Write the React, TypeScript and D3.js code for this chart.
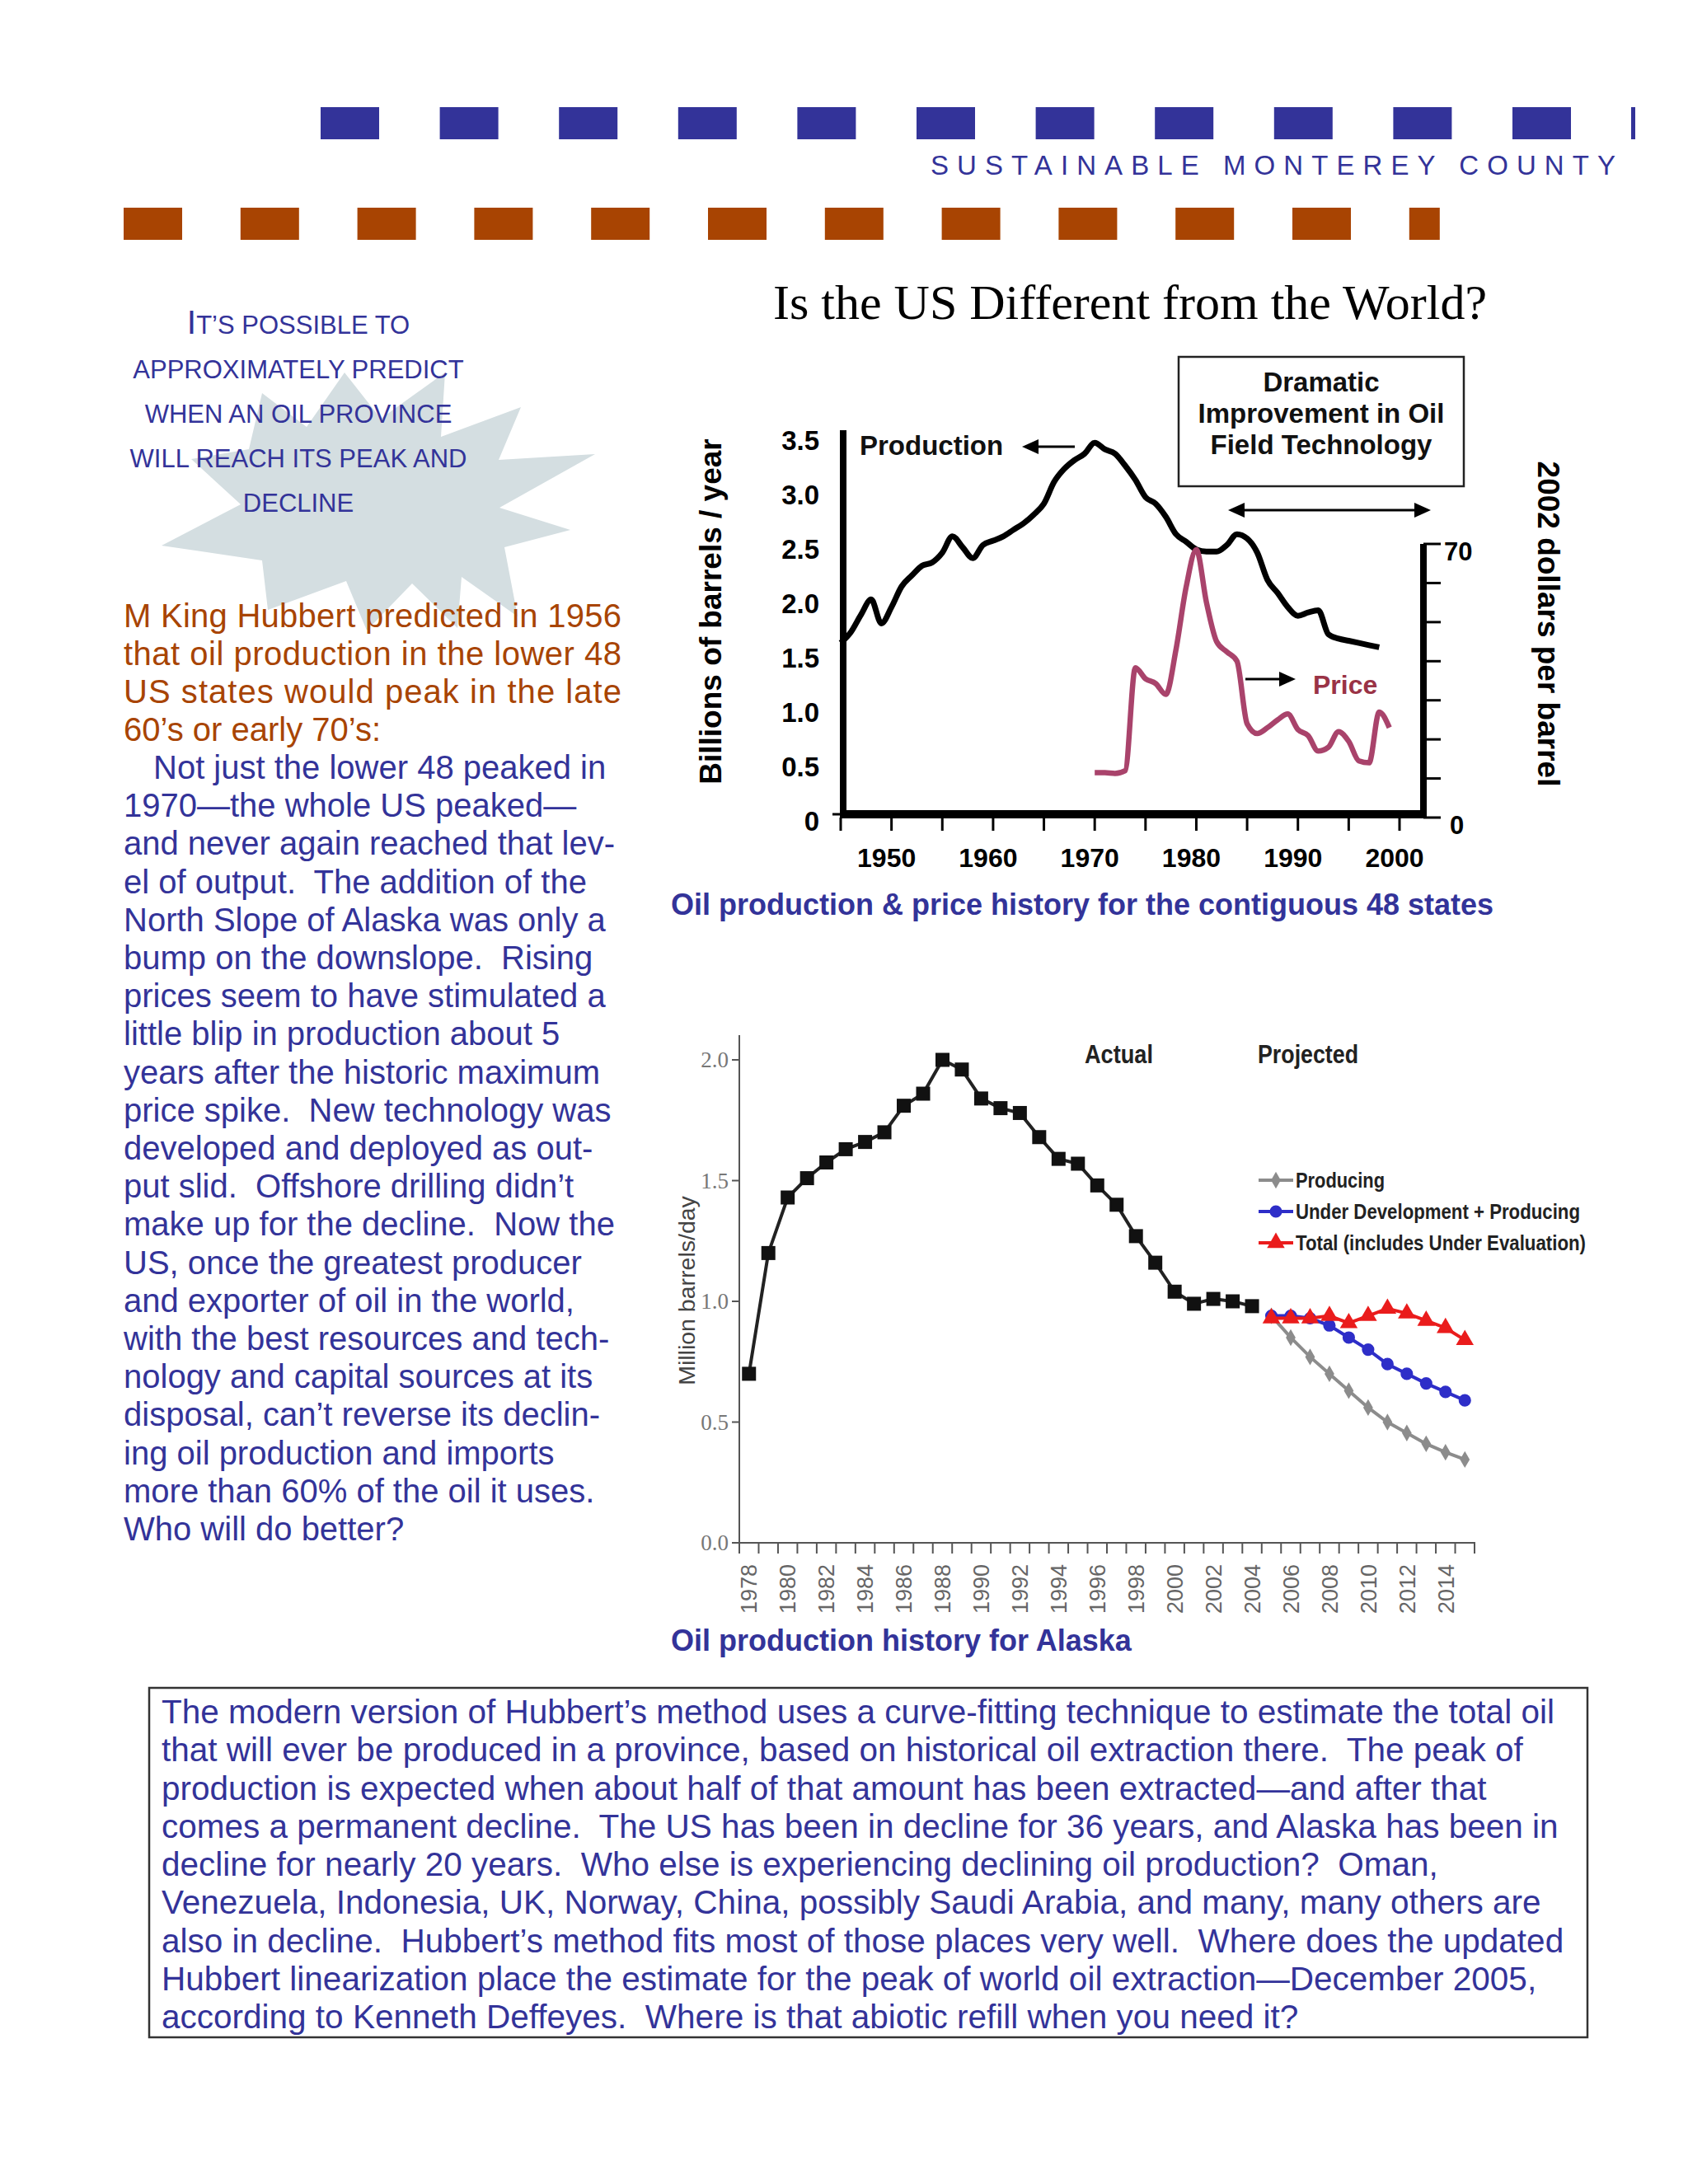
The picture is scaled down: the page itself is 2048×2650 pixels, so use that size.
import * as d3 from 'd3'

const SANS = '"Liberation Sans", Arial, Helvetica, sans-serif'
const SERIF = '"Liberation Serif", "Times New Roman", serif'
const BLUE = '#333399'
const RUST = '#a84402'

// ---- lower 48 production (billion bbl / yr) ----
const prodYears = [
  1945, 1946, 1947, 1948, 1949, 1950, 1951, 1952, 1953, 1954, 1955, 1956, 1957, 1958,
  1959, 1960, 1961, 1962, 1963, 1964, 1965, 1966, 1967, 1968, 1969, 1970, 1971, 1972,
  1973, 1974, 1975, 1976, 1977, 1978, 1979, 1980, 1981, 1982, 1983, 1984, 1985, 1986,
  1987, 1988, 1989, 1990, 1991, 1992, 1993, 1994, 1995, 1996, 1997, 1998,
]
const prodValues = [
  1.62, 1.72, 1.88, 2.02, 1.8, 1.95, 2.14, 2.24, 2.33, 2.36, 2.45, 2.6, 2.5, 2.4,
  2.52, 2.56, 2.6, 2.66, 2.72, 2.8, 2.9, 3.1, 3.22, 3.3, 3.36, 3.46, 3.4, 3.36,
  3.25, 3.12, 2.96, 2.9, 2.78, 2.62, 2.55, 2.48, 2.46, 2.46, 2.52, 2.62, 2.58, 2.45,
  2.2, 2.08, 1.95, 1.87, 1.9, 1.92, 1.7, 1.66, 1.64, 1.62, 1.6, 1.58,
]

// ---- price (2002 dollars / bbl) ----
const priceYears = [
  1970, 1971, 1972, 1973, 1974, 1975, 1976, 1977, 1978, 1979, 1980, 1981, 1982, 1983, 1984,
  1985, 1986, 1987, 1988, 1989, 1990, 1991, 1992, 1993, 1994, 1995, 1996, 1997, 1998, 1999,
]
const priceValues = [
  11.5, 11.5, 11.3, 12, 38.3, 35.5, 34.3, 31.5, 43, 59, 68.5, 55, 45, 42.4, 40,
  24, 21.5, 23, 25, 26.5, 22.5, 21, 17, 18, 22, 19.5, 14.5, 14, 27, 23,
]

const prodTicks = [0, 0.5, 1, 1.5, 2, 2.5, 3, 3.5]
const prodTickLabels = ['0', '0.5', '1.0', '1.5', '2.0', '2.5', '3.0', '3.5']
const priceTicks = [0, 10, 20, 30, 40, 50, 60, 70]
const priceTickLabels = ['0', '70']
const yearTicks = [1945, 1950, 1955, 1960, 1965, 1970, 1975, 1980, 1985, 1990, 1995, 2000]
const yearLabels = [1950, 1960, 1970, 1980, 1990, 2000]

// ---- Alaska (million bbl / day) ----
const alaskaYears = [
  1978, 1979, 1980, 1981, 1982, 1983, 1984, 1985, 1986, 1987, 1988, 1989, 1990, 1991,
  1992, 1993, 1994, 1995, 1996, 1997, 1998, 1999, 2000, 2001, 2002, 2003, 2004, 2005,
  2006, 2007, 2008, 2009, 2010, 2011, 2012, 2013, 2014, 2015,
]
const actualValues = [
  0.7, 1.2, 1.43, 1.51, 1.575, 1.63, 1.66, 1.7, 1.81, 1.86, 2.0, 1.96, 1.84, 1.8,
  1.78, 1.68, 1.59, 1.57, 1.48, 1.4, 1.27, 1.16, 1.04, 0.99, 1.01, 1.0, 0.98,
]
const projYears = [2005, 2006, 2007, 2008, 2009, 2010, 2011, 2012, 2013, 2014, 2015]
const producingValues = [0.94, 0.85, 0.77, 0.7, 0.63, 0.56, 0.5, 0.455, 0.41, 0.375, 0.345]
const underDevValues = [0.94, 0.94, 0.93, 0.9, 0.85, 0.8, 0.74, 0.7, 0.66, 0.625, 0.59]
const totalValues = [0.93, 0.93, 0.93, 0.94, 0.91, 0.94, 0.97, 0.95, 0.92, 0.89, 0.84]
const alaskaTicks = [0, 0.5, 1, 1.5, 2]
const alaskaTickLabels = ['0.0', '0.5', '1.0', '1.5', '2.0']
const alaskaLabelYears = [
  1978, 1980, 1982, 1984, 1986, 1988, 1990, 1992, 1994, 1996, 1998, 2000, 2002, 2004,
  2006, 2008, 2010, 2012, 2014,
]

const legendItems = [
  { label: 'Producing', color: '#8c8c8c', shape: 'diamond', len: 108 },
  { label: 'Under Development + Producing', color: '#2e2ec8', shape: 'circle', len: 345 },
  { label: 'Total (includes Under Evaluation)', color: '#ea1c1c', shape: 'triangle', len: 352 },
]

// ---- text ----
const headingLines = ['T’S POSSIBLE TO', 'APPROXIMATELY PREDICT', 'WHEN AN OIL PROVINCE', 'WILL REACH ITS PEAK AND', 'DECLINE']
const rustLines = [
  'M King Hubbert predicted in 1956',
  'that oil production in the lower 48',
  'US states would peak in the late',
  '60’s or early 70’s:',
]
const blueLines = [
  'Not just the lower 48 peaked in',
  '1970—the whole US peaked—',
  'and never again reached that lev-',
  'el of output.  The addition of the',
  'North Slope of Alaska was only a',
  'bump on the downslope.  Rising',
  'prices seem to have stimulated a',
  'little blip in production about 5',
  'years after the historic maximum',
  'price spike.  New technology was',
  'developed and deployed as out-',
  'put slid.  Offshore drilling didn’t',
  'make up for the decline.  Now the',
  'US, once the greatest producer',
  'and exporter of oil in the world,',
  'with the best resources and tech-',
  'nology and capital sources at its',
  'disposal, can’t reverse its declin-',
  'ing oil production and imports',
  'more than 60% of the oil it uses.',
  'Who will do better?',
]
const boxLines = [
  'The modern version of Hubbert’s method uses a curve-fitting technique to estimate the total oil',
  'that will ever be produced in a province, based on historical oil extraction there.  The peak of',
  'production is expected when about half of that amount has been extracted—and after that',
  'comes a permanent decline.  The US has been in decline for 36 years, and Alaska has been in',
  'decline for nearly 20 years.  Who else is experiencing declining oil production?  Oman,',
  'Venezuela, Indonesia, UK, Norway, China, possibly Saudi Arabia, and many, many others are',
  'also in decline.  Hubbert’s method fits most of those places very well.  Where does the updated',
  'Hubbert linearization place the estimate for the peak of world oil extraction—December 2005,',
  'according to Kenneth Deffeyes.  Where is that abiotic refill when you need it?',
]

const starPoints: [number, number][] = [
  [540, 452], [535, 530], [632, 494], [605, 558], [722, 551], [606, 616], [692, 643],
  [612, 664], [628, 748], [560, 700], [555, 762], [500, 708], [445, 765], [420, 705],
  [325, 740], [318, 680], [196, 662], [292, 612], [232, 557], [302, 545], [318, 477],
  [372, 518], [418, 452], [462, 508],
]

const pre = { whiteSpace: 'pre' as const }

function Header() {
  const blue = d3.range(11).map((i) => 389 + i * 144.6)
  const rust = d3.range(12).map((i) => 150 + i * 141.8)
  return (
    <g>
      {blue.map((x, i) => <rect key={'b' + i} x={x} y={130} width={71} height={39} fill={BLUE} />)}
      <rect x={1979} y={130} width={5} height={39} fill={BLUE} />
      {rust.map((x, i) => (
        <rect key={'r' + i} x={x} y={252} width={i === 11 ? 37 : 71} height={39} fill={RUST} />
      ))}
      <text x={1129} y={212} fontFamily={SANS} fontSize={33} fill={BLUE} textLength={831} lengthAdjust="spacing">
        SUSTAINABLE MONTEREY COUNTY
      </text>
    </g>
  )
}

function LeftColumn() {
  return (
    <g fontFamily={SANS}>
      <polygon points={starPoints.map((p) => p.join(',')).join(' ')} fill="#d4dee1" />
      {headingLines.map((t, i) => (
        <text key={i} x={362} y={405 + i * 54} textAnchor="middle" fontSize={31} fill={BLUE} style={pre}>
          {i === 0 ? <tspan fontSize={41}>I</tspan> : null}
          {t}
        </text>
      ))}
      {rustLines.map((t, i) => (
        <text key={i} x={150} y={761 + i * 46} fontSize={40} fill={RUST} style={pre}
          {...(i < 3 ? { textLength: 604, lengthAdjust: 'spacing' } : {})}>
          {t}
        </text>
      ))}
      {blueLines.map((t, i) => (
        <text key={i} x={i === 0 ? 186 : 150} y={945 + i * 46.2} fontSize={40} fill={BLUE} style={pre}>
          {t}
        </text>
      ))}
    </g>
  )
}

function arrowHead(x: number, y: number, dir: number, len = 20, half = 9) {
  return `M${x},${y}L${x - dir * len},${y - half}L${x - dir * len},${y + half}Z`
}

function USChart() {
  const x = d3.scaleLinear().domain([1945, 2000]).range([1020, 1698])
  const yP = d3.scaleLinear().domain([0, 3.5]).range([994, 532])
  const yC = d3.scaleLinear().domain([0, 70]).range([992, 660])
  const prodLine = d3.line<number>().x((_, i) => x(prodYears[i])).y((v) => yP(v)).curve(d3.curveMonotoneX)
  const priceLine = d3.line<number>().x((_, i) => x(priceYears[i])).y((v) => yC(v)).curve(d3.curveMonotoneX)
  return (
    <g fontFamily={SANS} fontWeight="bold">
      <text x={1371} y={387} textAnchor="middle" fontFamily={SERIF} fontWeight="normal" fontSize={60} fill="#000">
        Is the US Different from the World?
      </text>

      {/* box */}
      <rect x={1430} y={433} width={346} height={157} fill="none" stroke="#222" strokeWidth={2.5} />
      {['Dramatic', 'Improvement in Oil', 'Field Technology'].map((t, i) => (
        <text key={i} x={1603} y={475 + i * 38} textAnchor="middle" fontSize={33} fill="#111">{t}</text>
      ))}

      {/* data */}
      <path d={prodLine(prodValues) || ''} fill="none" stroke="#000" strokeWidth={7} strokeLinejoin="round" />
      <path d={priceLine(priceValues) || ''} fill="none" stroke="#a9436b" strokeWidth={6.5} strokeLinejoin="round" />

      {/* axes */}
      <line x1={1023} x2={1023} y1={522} y2={993} stroke="#000" strokeWidth={8} />
      <line x1={1019} x2={1731} y1={988} y2={988} stroke="#000" strokeWidth={10} />
      <line x1={1727} x2={1727} y1={660} y2={993} stroke="#000" strokeWidth={8} />
      <line x1={1010} x2={1020} y1={988} y2={988} stroke="#000" strokeWidth={3} />
      {yearTicks.map((t) => (
        <line key={t} x1={x(t)} x2={x(t)} y1={992} y2={1008} stroke="#000" strokeWidth={3} />
      ))}
      {yearLabels.map((t) => (
        <text key={t} x={x(t) - 6} y={1052} textAnchor="middle" fontSize={32} fill="#000">{t}</text>
      ))}
      {prodTicks.map((t, i) => (
        <text key={t} x={994} y={yP(t) + 14} textAnchor="end" fontSize={33} fill="#000">{prodTickLabels[i]}</text>
      ))}
      {priceTicks.map((t) => (
        <line key={t} x1={1727} x2={1748} y1={yC(t)} y2={yC(t)} stroke="#000" strokeWidth={3} />
      ))}
      <text x={1752} y={yC(70) + 20} fontSize={31} fill="#000">{priceTickLabels[1]}</text>
      <text x={1759} y={yC(0) + 20} fontSize={31} fill="#000">{priceTickLabels[0]}</text>

      <text transform="translate(862,742) rotate(-90)" textAnchor="middle" dy="0.35em" fontSize={37} fill="#000">
        Billions of barrels / year
      </text>
      <text transform="translate(1879,757) rotate(90)" textAnchor="middle" dy="0.35em" fontSize={37} fill="#000">
        2002 dollars per barrel
      </text>

      {/* annotations */}
      <text x={1043} y={552} fontSize={33} fill="#111">Production</text>
      <line x1={1258} x2={1304} y1={542} y2={542} stroke="#000" strokeWidth={3} />
      <path d={arrowHead(1240, 542, -1)} fill="#000" />
      <line x1={1508} x2={1717} y1={619} y2={619} stroke="#000" strokeWidth={3} />
      <path d={arrowHead(1490, 619, -1)} fill="#000" />
      <path d={arrowHead(1736, 619, 1)} fill="#000" />
      <line x1={1511} x2={1554} y1={824} y2={824} stroke="#000" strokeWidth={3} />
      <path d={arrowHead(1572, 824, 1)} fill="#000" />
      <text x={1593} y={842} fontSize={32} fill="#9a3346">Price</text>

      <text x={814} y={1110} fontSize={36} fill={BLUE}>
        Oil production &amp; price history for the contiguous 48 states
      </text>
    </g>
  )
}

function marker(shape: string, size = 1) {
  const type = shape === 'square' ? d3.symbolSquare
    : shape === 'diamond' ? d3.symbolDiamond
    : shape === 'circle' ? d3.symbolCircle
    : d3.symbolTriangle
  const area = shape === 'square' ? 289 : shape === 'diamond' ? 120 : shape === 'circle' ? 180 : 200
  return d3.symbol().type(type).size(area * size)() || ''
}

function AlaskaChart() {
  const x = d3.scaleBand<number>().domain(alaskaYears).range([897, 1789]).padding(0)
  const cx = (yr: number) => (x(yr) || 0) + x.bandwidth() / 2
  const y = d3.scaleLinear().domain([0, 2.1]).range([1872, 1256.7])
  const line = (years: number[]) => d3.line<number>().x((_, i) => cx(years[i])).y((v) => y(v))
  const actualYears = alaskaYears.slice(0, actualValues.length)
  const series = [
    { values: producingValues, ...legendItems[0] },
    { values: underDevValues, ...legendItems[1] },
    { values: totalValues, ...legendItems[2] },
  ]
  const edges = [...alaskaYears.map((d) => x(d) || 0), 897 + x.bandwidth() * alaskaYears.length]
  return (
    <g fontFamily={SANS}>
      {/* axes */}
      <line x1={897} x2={897} y1={1256} y2={1873} stroke="#555" strokeWidth={2} />
      <line x1={896} x2={1790} y1={1872} y2={1872} stroke="#555" strokeWidth={2} />
      {alaskaTicks.map((t, i) => (
        <g key={t}>
          <line x1={888} x2={897} y1={y(t)} y2={y(t)} stroke="#555" strokeWidth={2} />
          <text x={884} y={y(t) + 9} textAnchor="end" fontFamily={SERIF} fontSize={27} fill="#777">
            {alaskaTickLabels[i]}
          </text>
        </g>
      ))}
      {edges.map((e, i) => (
        <line key={i} x1={e} x2={e} y1={1872} y2={1885} stroke="#555" strokeWidth={2} />
      ))}
      {alaskaLabelYears.map((yr) => (
        <text key={yr} transform={`translate(${cx(yr)},1898) rotate(-90)`} textAnchor="end" dy="0.36em"
          fontSize={27} fill="#666">
          {yr}
        </text>
      ))}
      <text transform="translate(833,1566) rotate(-90)" textAnchor="middle" dy="0.35em" fontSize={28.5} fill="#444">
        Million barrels/day
      </text>

      {/* actual */}
      <path d={line(actualYears)(actualValues) || ''} fill="none" stroke="#222" strokeWidth={4} />
      {actualValues.map((v, i) => (
        <path key={i} d={marker('square')} transform={`translate(${cx(actualYears[i])},${y(v)})`} fill="#111" />
      ))}

      {/* projections */}
      {series.map((s) => (
        <g key={s.label}>
          <path d={line(projYears)(s.values) || ''} fill="none" stroke={s.color} strokeWidth={4} />
          {s.values.map((v, i) => (
            <path key={i} d={marker(s.shape)} transform={`translate(${cx(projYears[i])},${y(v)})`} fill={s.color} />
          ))}
        </g>
      ))}

      <text x={1316} y={1290} fontSize={32} fontWeight="bold" fill="#222" textLength={83} lengthAdjust="spacingAndGlyphs">Actual</text>
      <text x={1526} y={1290} fontSize={32} fontWeight="bold" fill="#222" textLength={122} lengthAdjust="spacingAndGlyphs">Projected</text>

      {/* legend */}
      {legendItems.map((s, i) => {
        const ly = 1432 + i * 38
        return (
          <g key={s.label}>
            <line x1={1527} x2={1569} y1={ly} y2={ly} stroke={s.color} strokeWidth={4} />
            <path d={marker(s.shape)} transform={`translate(1548,${ly})`} fill={s.color} />
            <text x={1572} y={ly + 9} fontSize={25} fontWeight="bold" fill="#222" textLength={s.len}
              lengthAdjust="spacingAndGlyphs">
              {s.label}
            </text>
          </g>
        )
      })}

      <text x={814} y={2003} fontSize={36} fontWeight="bold" fill={BLUE}>Oil production history for Alaska</text>
    </g>
  )
}

function BottomBox() {
  return (
    <g fontFamily={SANS}>
      <rect x={181} y={2048} width={1745} height={424} fill="none" stroke="#333" strokeWidth={2.5} />
      {boxLines.map((t, i) => (
        <text key={i} x={196} y={2091 + i * 46.25} fontSize={40.5} fill={BLUE} style={pre}>{t}</text>
      ))}
    </g>
  )
}

export default function App() {
  return (
    <div style={{ position: 'absolute', left: 0, top: 0 }}>
      <svg width={2048} height={2650} viewBox="0 0 2048 2650" style={{ display: 'block', background: '#fff' }}>
        <rect width={2048} height={2650} fill="#fff" />
        <Header />
        <LeftColumn />
        <USChart />
        <AlaskaChart />
        <BottomBox />
      </svg>
    </div>
  )
}
